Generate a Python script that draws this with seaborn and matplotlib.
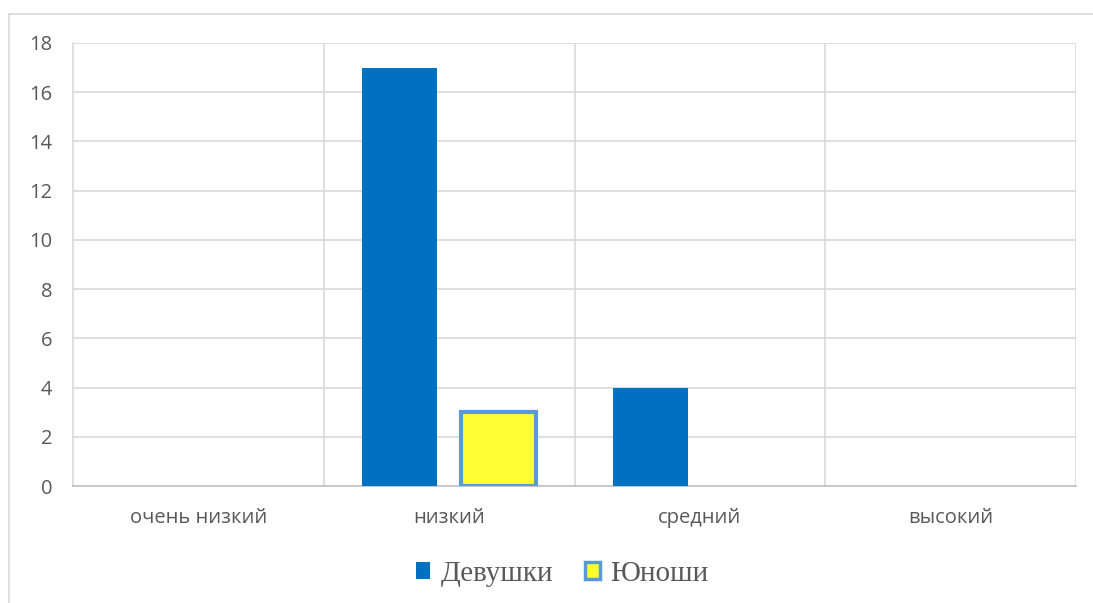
import matplotlib
matplotlib.use("Agg")
import matplotlib.pyplot as plt
import seaborn as sns
import pandas as pd
from matplotlib.patches import Rectangle, Patch

categories = ["очень низкий", "низкий", "средний", "высокий"]
girls = [0, 17, 4, 0]
boys = [0, 3, 0, 0]
series_names = ["Девушки", "Юноши"]
yticks = [0, 2, 4, 6, 8, 10, 12, 14, 16, 18]

df = pd.DataFrame({
    "cat": categories * 2,
    "val": girls + boys,
    "series": [series_names[0]] * 4 + [series_names[1]] * 4,
})

sns.set_style("white")
plt.rcParams['font.family'] = ['Open Sans', 'DejaVu Sans']

fig = plt.figure(figsize=(10.93, 6.03), dpi=100)
ax = fig.add_axes([73 / 1093, 1 - 486 / 603, (1076 - 73) / 1093, (486 - 43) / 603])

blue = "#0070C0"
yellow = "#FFFF33"
edge2 = "#5B9BD5"

sns.barplot(data=df, x="cat", y="val", hue="series", order=categories,
            hue_order=series_names, palette=[blue, yellow], width=0.79, gap=0.24,
            saturation=1, ax=ax, legend=False, zorder=3)

# style bars
for p in ax.patches:
    fc = p.get_facecolor()
    if p.get_height() == 0:
        p.set_visible(False)
        continue
    if abs(fc[0] - 1.0) < 0.01 and fc[1] > 0.9:
        p.set_edgecolor(edge2)
        p.set_linewidth(3)
    else:
        p.set_edgecolor("none")

ax.set_ylim(0, 18)
ax.set_xlim(-0.5, 3.5)
ax.set_yticks(yticks)
ax.set_yticklabels([str(v) for v in yticks])
ax.set_xlabel("")
ax.set_ylabel("")
ax.grid(False)
for y in yticks[1:]:
    ax.axhline(y, color="#D9D9D9", lw=1.2, zorder=1)
for x in [0.5, 1.5, 2.5, 3.5]:
    ax.axvline(x, color="#D9D9D9", lw=1.2, zorder=1)
for s in ["top", "right"]:
    ax.spines[s].set_visible(False)
ax.spines["left"].set_color("#D9D9D9")
ax.spines["left"].set_linewidth(1.2)
ax.spines["bottom"].set_color("#BFBFBF")
ax.spines["bottom"].set_linewidth(1.2)
ax.tick_params(axis="both", length=0, labelsize=14.5, colors="#595959")
ax.tick_params(axis="y", pad=15)
ax.tick_params(axis="x", pad=16)

# legend
handles = [Patch(facecolor=blue, edgecolor="none"),
           Patch(facecolor=yellow, edgecolor=edge2, linewidth=2.5)]
leg = fig.legend(handles, series_names, loc="center", bbox_to_anchor=(562 / 1093, 1 - 574 / 603),
                 ncol=2, frameon=False, handlelength=0.5, handleheight=0.5,
                 handletextpad=0.35, columnspacing=1.1,
                 prop={"family": ["Liberation Serif"], "size": 21})
for t in leg.get_texts():
    t.set_color("#595959")

# outer chart frame
fig.patches.append(Rectangle((9 / 1093, -0.05), 1.2, 1 - 14 / 603 + 0.05,
                             transform=fig.transFigure, fill=False,
                             edgecolor="#D9D9D9", lw=1.2))

fig.savefig("out.png", dpi=100, facecolor="white")
